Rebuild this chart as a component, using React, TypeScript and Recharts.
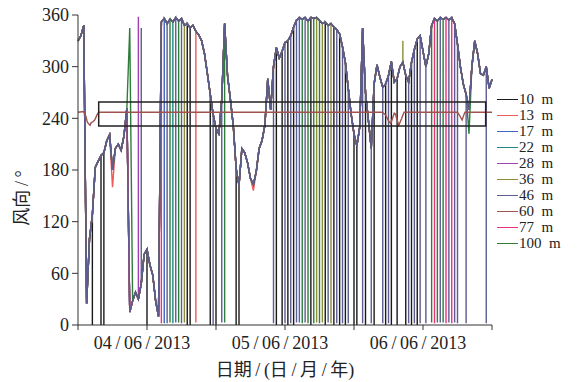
import React from 'react';
import { LineChart, Line, XAxis, YAxis, ReferenceArea } from 'recharts';

const FONT = '"Liberation Serif", "Times New Roman", "Noto Sans CJK SC", serif';

// common wind-direction trace (deg), one value every half hour from 03/06 00:00
const base = [
  330, 336, 348, 25, 100, 128, 183, 190, 197, 200,
  214, 221, 180, 205, 210, 203, 220, 252, 15, 28,
  38, 30, 48, 82, 88, 70, 58, 28, 10, 352,
  356, 350, 355, 352, 357, 353, 356, 348, 350, 345,
  348, 341, 337, 330, 315, 292, 268, 245, 228, 222,
  262, 350, 290, 262, 232, 182, 162, 205, 200, 188,
  170, 163, 178, 205, 214, 232, 286, 250, 300, 322,
  310, 318, 328, 330, 336, 346, 354, 357, 355, 357,
  353, 357, 356, 357, 354, 350, 352, 348, 350, 346,
  343, 338, 323, 305, 275, 245, 222, 208, 230, 345,
  270, 238, 205, 280, 302, 288, 276, 280, 290, 306,
  282, 286, 300, 305, 290, 282, 305, 320, 332, 336,
  318, 300, 315, 348, 356, 353, 357, 355, 357, 354,
  357, 350, 326, 300, 280, 268, 250, 300, 330, 315,
  292, 290, 300, 275, 285,
];

type Pair = [number, number];

// wrap-around spikes (0/360 crossings) per height: [hour, deg]
const spikes10: Pair[] = [
  [2.5, 0], [4, 0], [4.5, 0], [12, 0], [19, 0], [19.5, 0], [23, 0], [24, 0],
  [27.5, 0], [28, 0], [34.5, 0], [35.5, 0], [36.5, 0], [37.5, 0], [40.5, 0],
  [43, 0], [44.5, 0], [45.5, 0], [46.5, 0], [48, 0], [48.5, 0], [50, 0],
  [51.5, 0], [53.5, 0], [54.5, 0], [55.5, 0], [57, 0], [58, 0], [59, 0],
];
const spikes13: Pair[] = [[20.5, 3]];
const spikes17: Pair[] = [[15, 2], [38.5, 3]];
const spikes22: Pair[] = [[16.5, 2]];
const spikes28: Pair[] = [[10.5, 358]];
const spikes36: Pair[] = [[18.5, 3], [41.5, 3], [42.5, 3], [44, 2], [56.5, 330]];
const spikes46: Pair[] = [
  [11, 345], [15.5, 2], [17, 3], [18, 2], [23.5, 0], [25, 3], [34, 2], [36, 2],
  [37, 2], [38, 3], [39.5, 3], [43.5, 3], [45, 2], [46, 2], [47, 2], [49.5, 2],
  [51, 2], [53, 2], [54, 2], [57.5, 2], [58.5, 2], [59.5, 2], [60.5, 2], [63, 3],
  [64.5, 3], [65.5, 3], [66, 2], [67.5, 2], [71, 2],
];
const spikes77: Pair[] = [[14.5, 2], [62, 2], [64, 2], [65, 2]];
const spikes100: Pair[] = [
  [16, 3], [17.5, 3], [25.5, 3], [39, 2], [40, 2], [41, 2], [42, 2],
  [61.5, 3], [62.5, 3], [63.5, 3],
];

// points where one height leaves the common trace: [hour, deg]
const edits13: Pair[] = [[6, 160], [30.5, 156]];
const edits100: Pair[] = [[9, 345], [68, 222]];

// 60 m sensor stays near 247 deg
const m60Hours = [0, 1, 1.4, 1.6, 1.8, 2.1, 2.3, 2.6, 2.9, 3.3, 3.6, 52.9, 53.5, 54.1, 54.4, 54.7, 55, 55.2, 55.5, 55.8, 56.3, 56.7, 66, 66.4, 66.8, 67.1, 67.3, 72];
const m60Values = [247, 248, 242, 236, 234, 232, 235, 236, 238, 244, 247, 247, 244, 236, 234, 240, 246, 245, 238, 232, 240, 247, 247, 243, 238, 244, 247, 247];

const dateTicks = [0, 12, 24, 36, 48, 60, 72];
const dateLabels: Record<number, string> = {
  12: '04\u2009/\u200906\u2009/\u20092013',
  36: '05\u2009/\u200906\u2009/\u20092013',
  60: '06\u2009/\u200906\u2009/\u20092013',
};
const yTicks = [0, 60, 120, 180, 240, 300, 360];

function buildSeries(spikes: Pair[], edits: Pair[] = []) {
  const pts: { h: number; y: number }[] = [];
  base.forEach((v, i) => {
    const h = i * 0.5;
    const e = edits.find((p) => p[0] === h);
    const val = e ? e[1] : v;
    pts.push({ h, y: val });
    const s = spikes.find((p) => p[0] === h);
    if (s) {
      pts.push({ h, y: s[1] });
      pts.push({ h, y: val });
    }
  });
  return pts;
}

const series = [
  { key: 'm10', name: '10  m', color: '#1a1a1a', data: buildSeries(spikes10) },
  { key: 'm13', name: '13  m', color: '#ee5a5a', data: buildSeries(spikes13, edits13) },
  { key: 'm17', name: '17  m', color: '#3d66c4', data: buildSeries(spikes17) },
  { key: 'm22', name: '22  m', color: '#1f8585', data: buildSeries(spikes22) },
  { key: 'm28', name: '28  m', color: '#a040b4', data: buildSeries(spikes28) },
  { key: 'm36', name: '36  m', color: '#8c8c34', data: buildSeries(spikes36) },
  { key: 'm46', name: '46  m', color: '#5c5c90', data: buildSeries(spikes46) },
  { key: 'm60', name: '60  m', color: '#a0524e', data: m60Hours.map((h, i) => ({ h, y: m60Values[i] })) },
  { key: 'm77', name: '77  m', color: '#f0307c', data: buildSeries(spikes77) },
  { key: 'm100', name: '100  m', color: '#2e7d3a', data: buildSeries(spikes100, edits100) },
];

// draw order: 46 m over the bundle, 60 m last
const drawOrder = ['m10', 'm13', 'm17', 'm22', 'm28', 'm36', 'm77', 'm100', 'm46', 'm60'];

const YTitle = () => (
  <text x={22} y={198} transform="rotate(-90 22 198)" textAnchor="middle" dominantBaseline="central"
    fill="#222" fontSize={18} fontFamily={FONT}>
    风向{'\u2009'}/{'\u2009'}°
  </text>
);

const XTitle = () => (
  <text x={285} y={370} textAnchor="middle" dominantBaseline="central" fill="#222" fontSize={18} fontFamily={FONT}>
    日期{'\u2009'}/{'\u2009'}(日{'\u2009'}/{'\u2009'}月{'\u2009'}/{'\u2009'}年)
  </text>
);

export default function App() {
  return (
    <div style={{ position: 'absolute', left: 0, top: 0, width: 580, height: 382, background: '#fff' }}>
      <LineChart width={580} height={382} margin={{ top: 15, right: 88, bottom: 0, left: 0 }}>
        <XAxis
          type="number"
          dataKey="h"
          domain={[0, 72]}
          ticks={dateTicks}
          interval={0}
          height={57}
          tickSize={5}
          tickMargin={6}
          stroke="#333"
          tick={{ fill: '#222', fontSize: 18, fontFamily: FONT, dx: -5 }}
          tickFormatter={(v: number) => dateLabels[v] || ''}
          label={XTitle}
          allowDuplicatedCategory
        />
        <YAxis
          type="number"
          domain={[0, 360]}
          ticks={yTicks}
          interval={0}
          width={78}
          tickSize={6}
          tickMargin={3}
          stroke="#333"
          tick={{ fill: '#222', fontSize: 18, fontFamily: FONT }}
          label={YTitle}
        />
        {drawOrder.map((k) => {
          const s = series.find((x) => x.key === k)!;
          return (
            <Line key={k} data={s.data} name={s.name} type="linear" dataKey="y" stroke={s.color}
              strokeWidth={1.4} dot={false} activeDot={false} isAnimationActive={false} />
          );
        })}
        <ReferenceArea x1={3.6} x2={70.9} y1={231} y2={259} fill="none" fillOpacity={0}
          stroke="#222" strokeWidth={1.5} ifOverflow="visible" zIndex={1000} />
      </LineChart>
      <div style={{ position: 'absolute', left: 497, top: 91, fontFamily: FONT, fontSize: 15, color: '#222' }}>
        {series.map((s) => (
          <div key={s.key} style={{ display: 'flex', alignItems: 'center', height: 16, lineHeight: '16px' }}>
            <span style={{ display: 'inline-block', width: 21, height: 0, borderTop: `1.5px solid ${s.color}`, marginRight: 1 }} />
            <span style={{ whiteSpace: 'pre' }}>{s.name}</span>
          </div>
        ))}
      </div>
    </div>
  );
}
